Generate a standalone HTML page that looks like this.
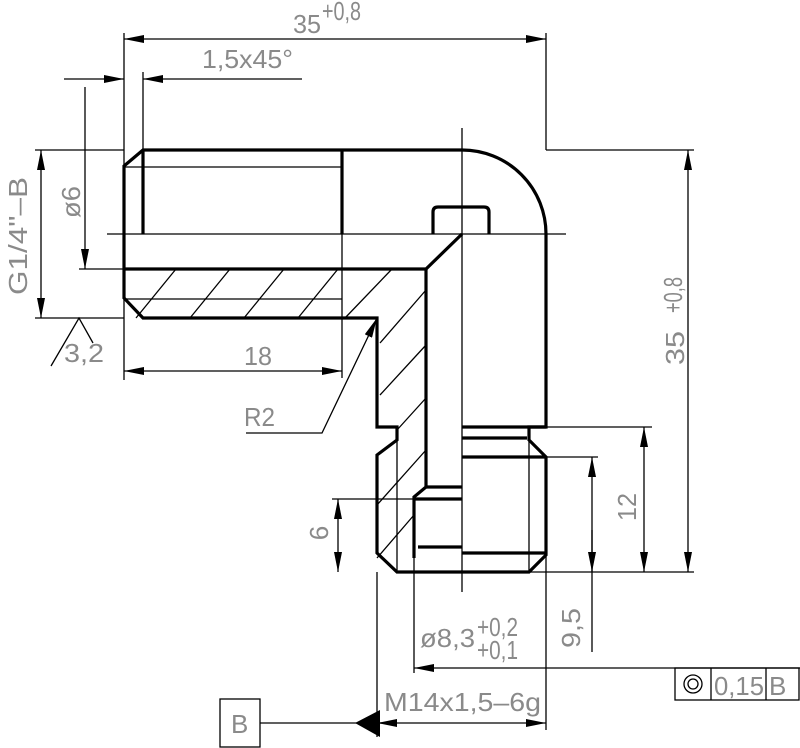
<!DOCTYPE html>
<html><head><meta charset="utf-8"><style>
html,body{margin:0;padding:0;background:#fff}
svg{display:block}
text{font-family:"Liberation Sans",sans-serif;fill:#8a8a8a;font-size:26px}
</style></head><body>
<svg width="800" height="748" viewBox="0 0 800 748" xmlns="http://www.w3.org/2000/svg">
<defs>
<marker id="a" viewBox="0 0 20 8" refX="20" refY="4" markerWidth="20" markerHeight="8" orient="auto-start-reverse" markerUnits="userSpaceOnUse"><path d="M0,0 L20,4 L0,8 Z" fill="#000"/></marker>
</defs>
<g stroke="#000" stroke-width="1.3" fill="none">
<line x1="124" y1="39" x2="546" y2="39" marker-start="url(#a)" marker-end="url(#a)"/>
<line x1="124" y1="33" x2="124" y2="380"/>
<line x1="546" y1="33" x2="546" y2="150"/>
<line x1="64" y1="79" x2="124" y2="79" marker-end="url(#a)"/>
<line x1="302" y1="79" x2="143" y2="79" marker-end="url(#a)"/>
<line x1="143" y1="72" x2="143" y2="150"/>
<line x1="85" y1="87" x2="85" y2="269" marker-end="url(#a)"/>
<line x1="79" y1="269" x2="124" y2="269"/>
<line x1="41" y1="150" x2="41" y2="318" marker-start="url(#a)" marker-end="url(#a)"/>
<line x1="35" y1="150" x2="124" y2="150"/>
<line x1="35" y1="318" x2="124" y2="318"/>
<line x1="546" y1="150" x2="694" y2="150"/>
<line x1="107" y1="234" x2="566" y2="234"/>
<line x1="462" y1="128" x2="462" y2="592"/>
<line x1="124" y1="167" x2="342" y2="167"/>
<line x1="124" y1="299" x2="342" y2="299"/>
<line x1="342" y1="234" x2="342" y2="378"/>
<line x1="397" y1="427" x2="397" y2="572"/>
<line x1="529" y1="427" x2="529" y2="572"/>
<line x1="136" y1="318" x2="176" y2="269"/>
<line x1="190" y1="318" x2="230" y2="269"/>
<line x1="244" y1="318" x2="284" y2="269"/>
<line x1="298" y1="318" x2="338" y2="269"/>
<line x1="345" y1="318" x2="392" y2="269"/>
<line x1="380" y1="343" x2="426" y2="290"/>
<line x1="380" y1="395" x2="426" y2="345"/>
<line x1="397" y1="430" x2="426" y2="398"/>
<line x1="377" y1="505" x2="426" y2="450"/>
<line x1="377" y1="558" x2="414" y2="515"/>
<line x1="124" y1="371" x2="342" y2="371" marker-start="url(#a)" marker-end="url(#a)"/>
<polyline points="246,433 322,433 377,318" marker-end="url(#a)"/>
<polyline points="51,366 79,318 93,343"/>
<line x1="688" y1="150" x2="688" y2="572" marker-start="url(#a)" marker-end="url(#a)"/>
<line x1="397" y1="572" x2="694" y2="572"/>
<line x1="546" y1="427" x2="652" y2="427"/>
<line x1="644" y1="427" x2="644" y2="572" marker-start="url(#a)" marker-end="url(#a)"/>
<line x1="546" y1="457" x2="598" y2="457"/>
<line x1="592" y1="652" x2="592" y2="457" marker-end="url(#a)"/>
<line x1="592" y1="530" x2="592" y2="572" marker-end="url(#a)"/>
<line x1="332" y1="499" x2="414" y2="499"/>
<line x1="338" y1="499" x2="338" y2="572" marker-start="url(#a)" marker-end="url(#a)"/>
<line x1="377" y1="572" x2="377" y2="737"/>
<line x1="414" y1="558" x2="414" y2="673"/>
<line x1="546" y1="555" x2="546" y2="730"/>
<line x1="800" y1="668" x2="414" y2="668" marker-end="url(#a)"/>
<line x1="377" y1="723" x2="546" y2="723" marker-start="url(#a)" marker-end="url(#a)"/>
<rect x="220" y="699" width="40" height="48"/>
<line x1="260" y1="723" x2="360" y2="723"/>
<rect x="675" y="668" width="124" height="32"/>
<line x1="711" y1="668" x2="711" y2="700"/>
<line x1="766" y1="668" x2="766" y2="700"/>
<circle cx="693" cy="684" r="9"/>
<circle cx="693" cy="684" r="5"/>
</g>
<polygon points="355,723 380,710 380,737" fill="#000"/>
<g stroke="#000" stroke-width="3.2" fill="none" stroke-linejoin="miter">
<path d="M143,150 L462,150 A84,84 0 0 1 546,234 L546,427 L529,427 L529,440 L546,457 L546,555 L529,572 L397,572 L377,553 L377,455 L397,440 L397,427 L377,427 L377,318 L143,318 L124,298 L124,166 Z"/>
<line x1="143" y1="150" x2="143" y2="234"/>
<line x1="342" y1="150" x2="342" y2="234"/>
<polyline points="124,269 426,269 462,234"/>
<polyline points="426,269 426,487 414,497 414,558 Q412,570 397,572"/>
<path d="M433,234 L433,212 Q433,207 438,207 L484,207 Q489,207 489,212 L489,234"/>
<line x1="462" y1="427" x2="546" y2="427"/>
<line x1="462" y1="438" x2="527" y2="438"/>
<line x1="462" y1="457" x2="546" y2="457"/>
<line x1="426" y1="487" x2="462" y2="487"/>
<line x1="414" y1="499" x2="462" y2="499"/>
<line x1="418" y1="547" x2="462" y2="547"/>
<line x1="462" y1="553" x2="546" y2="553"/>
</g>
<g>
<text x="293" y="33" font-size="28" textLength="28" lengthAdjust="spacingAndGlyphs">35</text>
<text x="322" y="20" font-size="19" textLength="39" lengthAdjust="spacingAndGlyphs">+0,8</text>
<text x="202" y="68" font-size="26" textLength="91" lengthAdjust="spacingAndGlyphs">1,5x45°</text>
<text transform="translate(80,202) rotate(-90)" text-anchor="middle" font-size="26" textLength="32" lengthAdjust="spacingAndGlyphs">ø6</text>
<text transform="translate(27,236) rotate(-90)" text-anchor="middle" font-size="26" textLength="118" lengthAdjust="spacingAndGlyphs">G1/4"–B</text>
<text x="64" y="362" font-size="26" textLength="40" lengthAdjust="spacingAndGlyphs">3,2</text>
<text x="244" y="365" font-size="26" textLength="28" lengthAdjust="spacingAndGlyphs">18</text>
<text x="244" y="426" font-size="26" textLength="31" lengthAdjust="spacingAndGlyphs">R2</text>
<text transform="translate(684,348) rotate(-90)" text-anchor="middle" font-size="28" textLength="34" lengthAdjust="spacingAndGlyphs">35</text>
<text transform="translate(682,295) rotate(-90)" text-anchor="middle" font-size="19" textLength="36" lengthAdjust="spacingAndGlyphs">+0,8</text>
<text transform="translate(636,507) rotate(-90)" text-anchor="middle" font-size="26" textLength="28" lengthAdjust="spacingAndGlyphs">12</text>
<text transform="translate(580,628) rotate(-90)" text-anchor="middle" font-size="26" textLength="40" lengthAdjust="spacingAndGlyphs">9,5</text>
<text transform="translate(328,533) rotate(-90)" text-anchor="middle" font-size="26">6</text>
<text x="420" y="647" font-size="26" textLength="55" lengthAdjust="spacingAndGlyphs">ø8,3</text>
<text x="477" y="636" font-size="19" textLength="41" lengthAdjust="spacingAndGlyphs">+0,2</text>
<text x="477" y="659" font-size="19" textLength="41" lengthAdjust="spacingAndGlyphs">+0,1</text>
<text x="384" y="711" font-size="26" textLength="157" lengthAdjust="spacingAndGlyphs">M14x1,5–6g</text>
<text x="714" y="695" font-size="26" textLength="50" lengthAdjust="spacingAndGlyphs">0,15</text>
<text x="769" y="695" font-size="26">B</text>
<text x="231" y="733" font-size="26">B</text>
</g>
</svg>
</body></html>
